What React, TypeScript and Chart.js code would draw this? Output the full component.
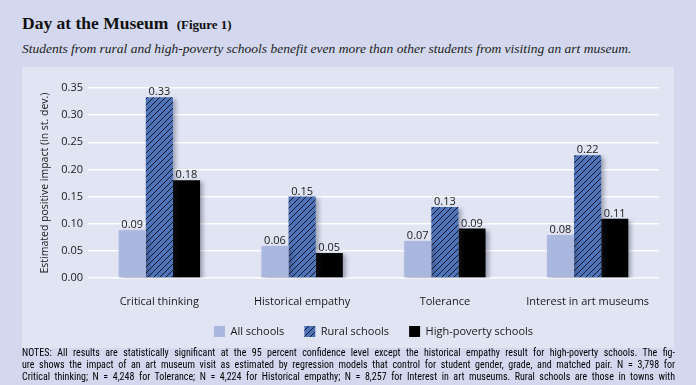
import React, { useEffect, useRef } from "react";
import { Chart, registerables } from "chart.js";

Chart.register(...registerables);

const categories = ["Critical thinking", "Historical empathy", "Tolerance", "Interest in art museums"];
const allSchools = [0.088, 0.059, 0.068, 0.079];
const ruralSchools = [0.333, 0.15, 0.131, 0.226];
const highPoverty = [0.18, 0.046, 0.091, 0.109];
const allLabels = ["0.09", "0.06", "0.07", "0.08"];
const ruralLabels = ["0.33", "0.15", "0.13", "0.22"];
const povertyLabels = ["0.18", "0.05", "0.09", "0.11"];
const yTicks = [0, 0.05, 0.1, 0.15, 0.2, 0.25, 0.3, 0.35];

const notesLines = [
  "NOTES: All results are statistically significant at the 95 percent confidence level except the historical empathy result for high-poverty schools. The fig-",
  "ure shows the impact of an art museum visit as estimated by regression models that control for student gender, grade, and matched pair. N = 3,798 for",
  "Critical thinking; N = 4,248 for Tolerance; N = 4,224 for Historical empathy; N = 8,257 for Interest in art museums. Rural schools are those in towns with",
];

const FONT = "'Open Sans', 'DejaVu Sans', sans-serif";

function makeHatch(): CanvasPattern | string {
  const c = document.createElement("canvas");
  const s = 6;
  c.width = s;
  c.height = s;
  const g = c.getContext("2d");
  if (!g) return "#4d74bb";
  g.fillStyle = "#4d74bb";
  g.fillRect(0, 0, s, s);
  g.strokeStyle = "#141820";
  g.lineWidth = 1;
  g.beginPath();
  g.moveTo(0, s);
  g.lineTo(s, 0);
  g.moveTo(-1, 1);
  g.lineTo(1, -1);
  g.moveTo(s - 1, s + 1);
  g.lineTo(s + 1, s - 1);
  g.stroke();
  const p = g.createPattern(c, "repeat");
  return p || "#4d74bb";
}

export default function App() {
  const ref = useRef<HTMLCanvasElement | null>(null);

  useEffect(() => {
    if (!ref.current) return;
    const hatch = makeHatch();
    const labelSets = [allLabels, ruralLabels, povertyLabels];
    const barPlugin = {
      id: "barDecor",
      afterLayout(chart: any) {
        const x = chart.scales.x;
        if (x) x.bottom = x.top + 40;
      },
      beforeDatasetsDraw(chart: any) {
        const ctx = chart.ctx;
        ctx.save();
        ctx.shadowColor = "rgba(40,40,60,0.35)";
        ctx.shadowBlur = 4;
        ctx.shadowOffsetX = 3;
        ctx.shadowOffsetY = 2;
      },
      afterDatasetsDraw(chart: any) {
        const ctx = chart.ctx;
        ctx.restore();
        ctx.save();
        ctx.font = `11px ${FONT}`;
        ctx.fillStyle = "#1a1a1a";
        ctx.textAlign = "center";
        ctx.textBaseline = "alphabetic";
        chart.data.datasets.forEach((_d: any, di: number) => {
          const meta = chart.getDatasetMeta(di);
          meta.data.forEach((el: any, i: number) => {
            ctx.fillText(labelSets[di][i], el.x, el.y - 2);
          });
        });
        ctx.restore();
      },
    };

    const chart = new Chart(ref.current, {
      type: "bar",
      data: {
        labels: categories,
        datasets: [
          { label: "All schools", data: allSchools, backgroundColor: "#aab7de" },
          { label: "Rural schools", data: ruralSchools, backgroundColor: hatch as any },
          { label: "High-poverty schools", data: highPoverty, backgroundColor: "#000000" },
        ],
      },
      options: {
        responsive: false,
        animation: false,
        layout: { padding: { left: 0, right: 15, top: 21, bottom: 1 } },
        datasets: { bar: { categoryPercentage: 0.57, barPercentage: 1.0 } },
        plugins: {
          tooltip: { enabled: false },
          legend: {
            position: "bottom",
            fullSize: false,
            labels: {
              boxWidth: 11,
              boxHeight: 11,
              padding: 20,
              color: "#1a1a1a",
              font: { family: FONT, size: 11 },
            },
          },
        },
        scales: {
          x: {
            grid: { display: false, drawTicks: false },
            border: { display: false },
            ticks: { color: "#1a1a1a", font: { family: FONT, size: 11 }, padding: 17 },
            afterFit(scale: any) {
              scale.height = 28;
            },
          },
          y: {
            min: 0,
            max: 0.35,
            afterBuildTicks(scale: any) {
              scale.ticks = yTicks.map((v) => ({ value: v }));
            },
            grid: { color: "rgba(255,255,255,0.95)", lineWidth: 1.5, drawTicks: false },
            border: { display: false },
            ticks: {
              color: "#1a1a1a",
              font: { family: FONT, size: 11 },
              padding: 5,
              callback: (v: any) => Number(v).toFixed(2),
            },
            title: {
              display: true,
              text: "Estimated positive impact (in st. dev.)",
              color: "#1a1a1a",
              font: { family: FONT, size: 10.5 },
              padding: { top: 17, bottom: 0 },
            },
            afterFit(scale: any) {
              scale.width = 66;
            },
          },
        },
      },
      plugins: [barPlugin],
    });
    return () => chart.destroy();
  }, []);

  return (
    <div
      style={{
        position: "fixed",
        left: 0,
        top: 0,
        width: 696,
        height: 385,
        background: "#d3d8ee",
        overflow: "hidden",
      }}
    >
      <div
        style={{
          position: "absolute",
          left: 22,
          top: 13,
          fontFamily: "'Liberation Serif', serif",
          fontWeight: 700,
          fontSize: 17.5,
          color: "#111",
          whiteSpace: "nowrap",
        }}
      >
        Day at the Museum <span style={{ fontSize: 13, marginLeft: 4 }}>(Figure 1)</span>
      </div>
      <div
        style={{
          position: "absolute",
          left: 22,
          top: 41,
          fontFamily: "'Liberation Serif', serif",
          fontStyle: "italic",
          fontSize: 13.5,
          color: "#222",
          whiteSpace: "nowrap",
        }}
      >
        Students from rural and high-poverty schools benefit even more than other students from visiting an art museum.
      </div>
      <div
        style={{
          position: "absolute",
          left: 22,
          top: 67,
          width: 652,
          height: 281,
          background: "#e0e4f3",
        }}
      >
        <canvas ref={ref} width={652} height={281} style={{ display: "block" }} />
      </div>
      <div
        style={{
          position: "absolute",
          left: 22,
          top: 347,
          width: 653,
          fontFamily: "'Liberation Sans Narrow', 'Roboto Condensed', 'DejaVu Sans Condensed', 'Roboto', sans-serif",
          fontSize: 10,
          lineHeight: "12px",
          color: "#000",
        }}
      >
        {notesLines.map((l, i) => (
          <div key={i} style={{ whiteSpace: "nowrap", textAlign: "justify", textAlignLast: "justify" as any }}>
            {l}
          </div>
        ))}
      </div>
    </div>
  );
}
